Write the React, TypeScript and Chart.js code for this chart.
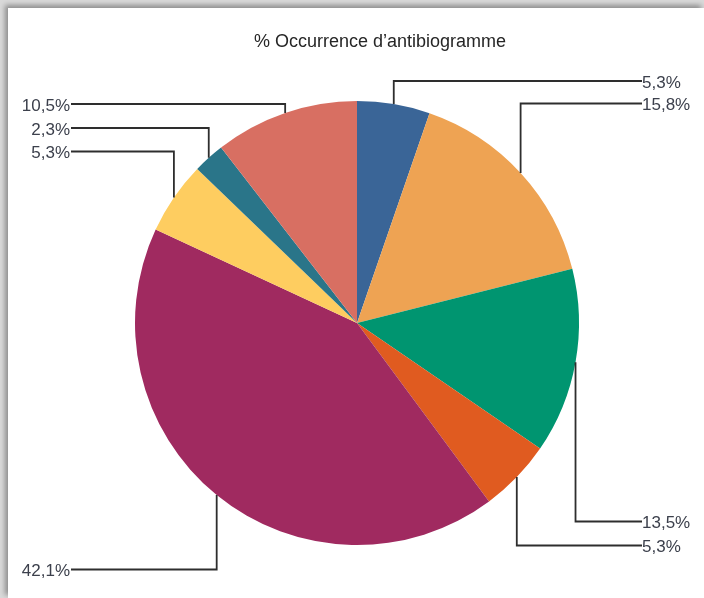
import React, { useEffect, useRef } from 'react';
import { Chart, registerables } from 'chart.js';

Chart.register(...registerables);

// ---- data ----
const categories = ['Catégorie 1', 'Catégorie 2', 'Catégorie 3', 'Catégorie 4', 'Catégorie 5', 'Catégorie 6', 'Catégorie 7', 'Catégorie 8'];
const percentValues = [5.3, 15.8, 13.5, 5.3, 42.1, 5.3, 2.3, 10.5];
const sliceColors = ['#3a6597', '#eea353', '#009570', '#e05b20', '#a02a60', '#fecd60', '#2a7589', '#d86f62'];
const titleText = '% Occurrence d\u2019antibiogramme';

// ---- layout (label rows, relative to pie centre) ----
const LABEL_DY = [-242, -219.5, 198.5, 222.5, 246.5, -171.5, -195, -219];
const RIGHT_LABEL_X = 642;
const LEFT_LABEL_X = 70;

const fmt = (v: number) => v.toFixed(1).replace('.', ',') + '%';

const leaderPlugin = {
  id: 'leaderLabels',
  afterDraw(chart: any) {
    const ctx = chart.ctx as CanvasRenderingContext2D;
    const meta = chart.getDatasetMeta(0);
    ctx.save();
    // title
    ctx.font = '18px "Liberation Sans", Arial, sans-serif';
    ctx.fillStyle = '#262626';
    ctx.textAlign = 'center';
    ctx.textBaseline = 'middle';
    ctx.fillText(titleText, 380, 42);

    meta.data.forEach((arc: any, i: number) => {
      const p = arc.getProps(['x', 'y', 'startAngle', 'endAngle', 'outerRadius'], true);
      const mid = (p.startAngle + p.endAngle) / 2;
      const px = p.x + p.outerRadius * Math.cos(mid);
      const py = p.y + p.outerRadius * Math.sin(mid);
      const ly = p.y + LABEL_DY[i];
      const right = Math.cos(mid) > 0;
      const ex = right ? RIGHT_LABEL_X : LEFT_LABEL_X + 1;
      ctx.beginPath();
      ctx.strokeStyle = '#2e2e2e';
      ctx.lineWidth = 1.8;
      ctx.moveTo(px, py);
      ctx.lineTo(px, ly);
      ctx.lineTo(ex, ly);
      ctx.stroke();
      ctx.font = '17px "Liberation Sans", Arial, sans-serif';
      ctx.fillStyle = '#3c404c';
      ctx.textBaseline = 'middle';
      ctx.textAlign = right ? 'left' : 'right';
      ctx.fillText(fmt(percentValues[i]), right ? RIGHT_LABEL_X : LEFT_LABEL_X, ly + 2);
    });
    ctx.restore();
  },
};

export default function App() {
  const ref = useRef<HTMLCanvasElement | null>(null);
  useEffect(() => {
    if (!ref.current) return;
    const chart = new Chart(ref.current, {
      type: 'pie',
      data: {
        labels: categories,
        datasets: [
          {
            data: percentValues,
            backgroundColor: sliceColors,
            borderWidth: 0,
          },
        ],
      },
      options: {
        responsive: false,
        animation: false,
        layout: { padding: { left: 135, right: 125, top: 101, bottom: 53 } },
        plugins: {
          legend: { display: false },
          title: { display: false },
          tooltip: { enabled: false },
        },
      },
      plugins: [leaderPlugin],
    });
    return () => chart.destroy();
  }, []);

  return (
    <div style={{ position: 'fixed', left: 0, top: 0, width: 704, height: 598, background: '#d9d9d9', overflow: 'hidden' }}>
      <div
        style={{
          position: 'absolute',
          left: 8,
          top: 8,
          right: 0,
          bottom: 0,
          background: '#ffffff',
          boxShadow: '-3px -3px 5px rgba(0,0,0,0.35)',
        }}
      />
      <canvas ref={ref} width={704} height={598} style={{ position: 'absolute', left: 0, top: 0, width: 704, height: 598 }} />
    </div>
  );
}
